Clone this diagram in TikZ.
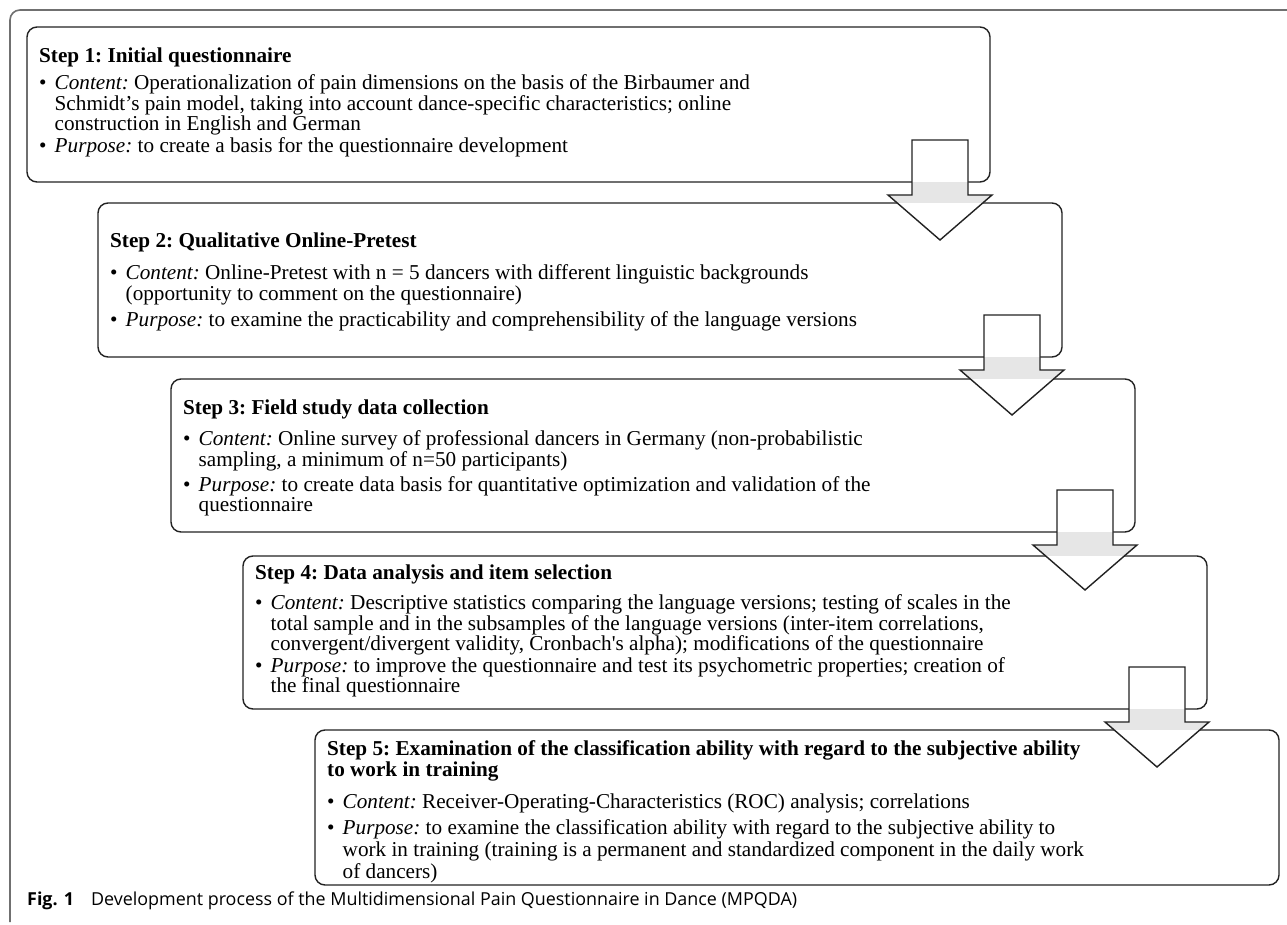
\documentclass[tikz,border=0pt]{standalone}
\usepackage{fontspec}
\setmainfont{Liberation Serif}
\newfontfamily\capfont{Open Sans}
\usetikzlibrary{calc}
\definecolor{boxline}{HTML}{222222}
\definecolor{framegray}{HTML}{707070}
\definecolor{stripgray}{HTML}{E6E6E6}
\tikzset{
  stepbox/.style={draw=boxline, line width=1.4pt, rounded corners=10pt, fill=white,
    anchor=north west, inner sep=0pt, outer sep=0pt, minimum width=964pt},
  steptext/.style={anchor=north west, inner sep=0pt, align=left,
    font=\fontsize{21.2}{20.5}\selectfont\frenchspacing},
  flowarrow/.style={draw=boxline, line width=1.4pt, line join=miter},
  frameline/.style={draw=framegray, line width=1.6pt},
  captext/.style={anchor=base west, inner sep=0pt, font=\capfont\fontsize{17.9}{20}\selectfont},
}
\newcommand\steptitle[1]{\textbf{#1}}
\newcommand\bul{\makebox[15.5pt][l]{\textbullet}}
\newcommand\ind{\hspace*{15.5pt}}
\newcommand\stepconnect[3]{%
  \coordinate (#3) at ($(#1.south east)+(-50,0)$);
  \coordinate (#3-1) at ($(#3)+(-28,-42)$);
  \coordinate (#3-2) at ($(#3)+(-28,13)$);
  \coordinate (#3-3) at ($(#3)+(-52,13)$);
  \coordinate (#3-4) at ($(#3)+(0,58)$);
  \coordinate (#3-5) at ($(#3)+(52,13)$);
  \coordinate (#3-6) at ($(#3)+(28,13)$);
  \coordinate (#3-7) at ($(#3)+(28,-42)$);
  \fill[white] (#3-1) -- (#3-2) -- (#3-3) -- (#3-4) -- (#3-5) -- (#3-6) -- (#3-7) -- cycle;
  \begin{scope}
    \clip (#3-1) -- (#3-2) -- (#3-3) -- (#3-4) -- (#3-5) -- (#3-6) -- (#3-7) -- cycle;
    \fill[stripgray] ($(#3)+(-60,0)$) rectangle ($(#3 |- #2.north)+(60,0)$);
  \end{scope}
  \draw[flowarrow] (#3-1) -- (#3-2) -- (#3-3) -- (#3-4) -- (#3-5) -- (#3-6) -- (#3-7) -- cycle;
}
\begin{document}
\begin{tikzpicture}[x=1pt,y=-1pt]
\useasboundingbox (0,0) rectangle (1287,925);
\fill[white] (0,0) rectangle (1287,925);
% outer frame
\coordinate (fa) at (10,922);
\coordinate (fb) at (10,10);
\coordinate (fc) at (1287,10);
\draw[frameline, rounded corners=10pt] (fa) -- (fb) -- (fc);
% boxes
\node[stepbox, minimum width=963pt, minimum height=155pt] (b1) at (27,27) {};
\node[stepbox, minimum height=154pt] (b2) at (98,203) {};
\node[stepbox, minimum height=153pt] (b3) at (171,379) {};
\node[stepbox, minimum height=153pt] (b4) at (243,556) {};
\node[stepbox, minimum height=155pt] (b5) at (315,730) {};
% arrows
\stepconnect{b1}{b2}{a1}
\stepconnect{b2}{b3}{a2}
\stepconnect{b3}{b4}{a3}
\stepconnect{b4}{b5}{a4}
% texts
\node[steptext] (t1) at ($(b1.north west)+(12,21)$) {\steptitle{Step 1: Initial questionnaire}\\[6.5pt]
\bul\textit{Content:} Operationalization of pain dimensions on the basis of the Birbaumer and\\
\ind Schmidt’s pain model, taking into account dance-specific characteristics; online\\
\ind construction in English and German\\[1pt]
\bul\textit{Purpose:} to create a basis for the questionnaire development};
\node[steptext] (t2) at ($(b2.north west)+(12,30)$) {\steptitle{Step 2: Qualitative Online-Pretest}\\[11.5pt]
\bul\textit{Content:} Online-Pretest with n = 5 dancers with different linguistic backgrounds\\
\ind (opportunity to comment on the questionnaire)\\[6pt]
\bul\textit{Purpose:} to examine the practicability and comprehensibility of the language versions};
\node[steptext] (t3) at ($(b3.north west)+(12,21)$) {\steptitle{Step 3: Field study data collection}\\[10.5pt]
\bul\textit{Content:} Online survey of professional dancers in Germany (non-probabilistic\\
\ind sampling, a minimum of n=50 participants)\\[4.5pt]
\bul\textit{Purpose:} to create data basis for quantitative optimization and validation of the\\
\ind questionnaire};
\node[steptext] (t4) at ($(b4.north west)+(12,9)$) {\steptitle{Step 4: Data analysis and item selection}\\[9.5pt]
\bul\textit{Content:} Descriptive statistics comparing the language versions; testing of scales in the\\
\ind total sample and in the subsamples of the language versions (inter-item correlations,\\
\ind convergent/divergent validity, Cronbach\textquotesingle s alpha); modifications of the questionnaire\\[1pt]
\bul\textit{Purpose:} to improve the questionnaire and test its psychometric properties; creation of\\
\ind the final questionnaire};
\node[steptext] (t5) at ($(b5.north west)+(12,10)$) {\steptitle{Step 5: Examination of the classification ability with regard to the subjective ability}\\[0.5pt]
\steptitle{to work in training}\\[11.5pt]
\bul\textit{Content:} Receiver-Operating-Characteristics (ROC) analysis; correlations\\[5.5pt]
\bul\textit{Purpose:} to examine the classification ability with regard to the subjective ability to\\[1.5pt]
\ind work in training (training is a permanent and standardized component in the daily work\\[1.5pt]
\ind of dancers)};
% caption
\node[captext] (cap) at (27,905) {\textbf{Fig. 1}\hspace{17pt}Development process of the Multidimensional Pain Questionnaire in Dance (MPQDA)};
\end{tikzpicture}
\end{document}
